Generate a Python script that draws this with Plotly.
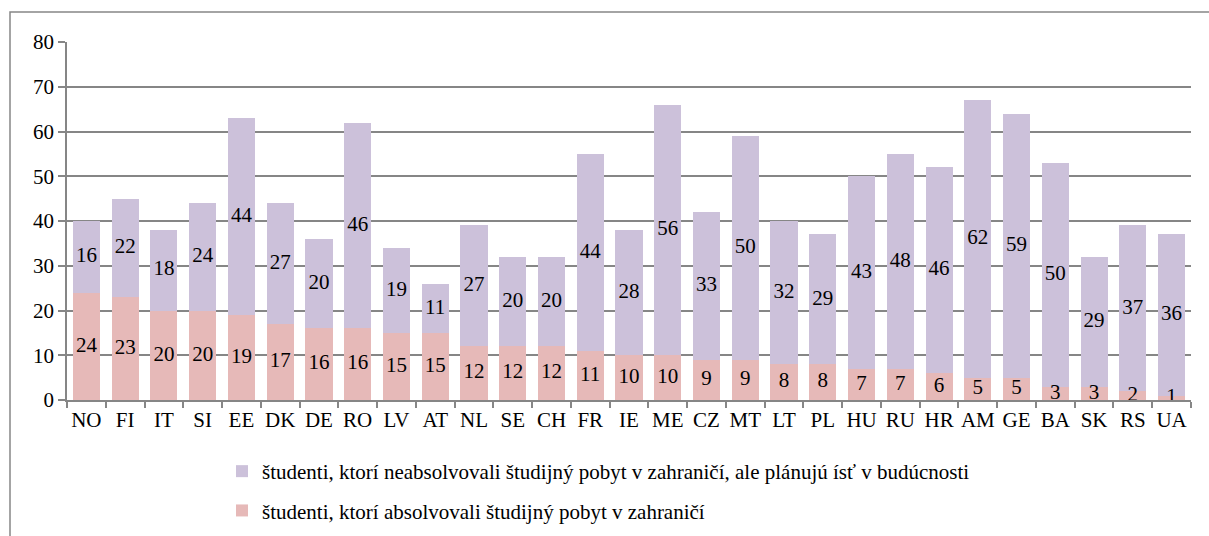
import plotly.graph_objects as go

countries = ["NO", "FI", "IT", "SI", "EE", "DK", "DE", "RO", "LV", "AT", "NL", "SE", "CH", "FR",
             "IE", "ME", "CZ", "MT", "LT", "PL", "HU", "RU", "HR", "AM", "GE", "BA", "SK", "RS", "UA"]
absolved = [24, 23, 20, 20, 19, 17, 16, 16, 15, 15, 12, 12, 12, 11,
            10, 10, 9, 9, 8, 8, 7, 7, 6, 5, 5, 3, 3, 2, 1]
planning = [16, 22, 18, 24, 44, 27, 20, 46, 19, 11, 27, 20, 20, 44,
            28, 56, 33, 50, 32, 29, 43, 48, 46, 62, 59, 50, 29, 37, 36]

name_absolved = "študenti, ktorí absolvovali študijný pobyt v zahraničí"
name_planning = "študenti, ktorí neabsolvovali študijný pobyt v zahraničí, ale plánujú ísť v budúcnosti"

PINK = "#E6B9B8"
PURPLE = "#CCC1DA"
GRID = "#868686"
FONT = "Liberation Serif, DejaVu Serif, serif"
FS = 21

W, H = 1209, 536
L, R, T, B = 67, 18, 42, 136

fig = go.Figure()
fig.add_trace(go.Bar(x=countries, y=absolved, name=name_absolved, marker_color=PINK,
                     marker_line_width=0, legendrank=2, legendgroup="a"))
fig.add_trace(go.Bar(x=countries, y=planning, name=name_planning, marker_color=PURPLE,
                     marker_line_width=0, legendrank=1, legendgroup="b"))

# value labels centred in each segment
fig.add_trace(go.Scatter(x=countries, y=[a / 2 for a in absolved], mode="text",
                         text=[str(a) for a in absolved], showlegend=False, hoverinfo="skip",
                         textfont=dict(family=FONT, size=FS, color="black")))
fig.add_trace(go.Scatter(x=countries, y=[a + p / 2 for a, p in zip(absolved, planning)], mode="text",
                         text=[str(p) for p in planning], showlegend=False, hoverinfo="skip",
                         textfont=dict(family=FONT, size=FS, color="black")))

pw = W - L - R
ph = H - T - B
# outer frame of the chart area
fig.add_shape(type="rect", xref="paper", yref="paper",
              x0=(10 - L) / pw, x1=2,
              y0=-2, y1=(H - B - 12) / ph,
              line=dict(color=GRID, width=1.5), fillcolor="rgba(0,0,0,0)", layer="below")

fig.update_layout(
    width=W, height=H,
    margin=dict(l=L, r=R, t=T, b=B, autoexpand=False),
    barmode="stack", bargap=0.3,
    plot_bgcolor="white", paper_bgcolor="white",
    font=dict(family=FONT, size=FS, color="black"),
    showlegend=True,
    legend=dict(orientation="v", traceorder="grouped", tracegroupgap=9,
                x=(222 - L) / pw, xanchor="left", y=(H - B - 451) / ph, yanchor="top",
                font=dict(family=FONT, size=FS), itemwidth=30,
                bgcolor="rgba(0,0,0,0)"),
    xaxis=dict(range=[-0.5, len(countries) - 0.5], showgrid=False, showline=True,
               linecolor=GRID, linewidth=1.5, tickangle=0,
               ticks="outside", tickson="boundaries", ticklen=6, tickcolor=GRID, tickwidth=1.5,
               tickfont=dict(family=FONT, size=FS), fixedrange=True),
    yaxis=dict(range=[0, 80], dtick=10, showgrid=True, gridcolor=GRID, gridwidth=1.5,
               showline=True, linecolor=GRID, linewidth=1.5, ticks="outside", ticklen=7,
               tickcolor=GRID, tickwidth=1.5, zeroline=False,
               tickfont=dict(family=FONT, size=FS), fixedrange=True),
)

fig.write_html("out.html")
